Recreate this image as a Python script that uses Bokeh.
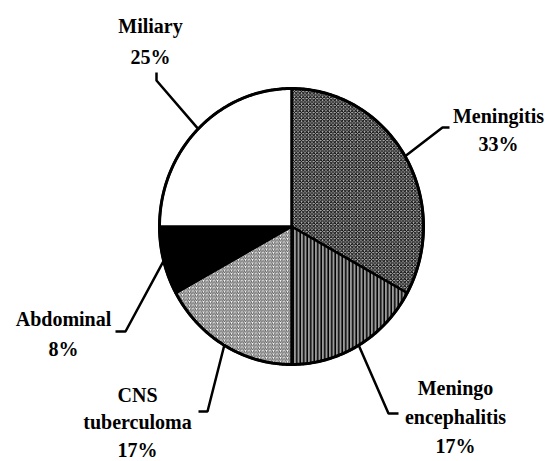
import numpy as np
from bokeh.plotting import figure
from bokeh.models import Range1d
from bokeh.core.properties import value
from bokeh.embed import file_html
from bokeh.resources import INLINE

# ---- data ----
categories = ["Meningitis", "Meningo encephalitis", "CNS tuberculoma", "Abdominal", "Miliary"]
percent = [33, 17, 17, 8, 25]
name_lines = [["Meningitis"], ["Meningo", "encephalitis"], ["CNS", "tuberculoma"], ["Abdominal"], ["Miliary"]]

# ---- styles / layout ----
fills = ["#b8b8b8", "#9a9a9a", "white", "black", "white"]
hatches = ["x", "|", "/", " ", " "]
hatch_colors = ["black", "black", "#555555", "black", "black"]
hatch_scales = [3.5, 3.5, 3.5, 4, 4]
hatch_weights = [1.0, 1.5, 1.0, 1, 1]

CX, CY, RX, RY = 291, 226, 132, 138   # page pixel coords (y down)

# leader elbows and label anchors (page px)
elbows = [[(442, 127), (449, 127)],
          [(388, 413), (398, 413)],
          [(207, 411), (198, 411)],
          [(125, 331), (115, 331)],
          [(156, 80), (156, 72)]]
label_x = [498, 455, 137, 63, 150]
label_y0 = [115, 387, 394, 318, 25]
label_dy = [28, 29, 27.5, 30, 31]

W, H = 547, 461
p = figure(width=W, height=H, output_backend="svg", toolbar_location=None,
           x_range=Range1d(0, W), y_range=Range1d(H, 0),
           min_border=0)
p.axis.visible = False
p.grid.visible = False
p.outline_line_color = None
p.background_fill_color = "white"
p.border_fill_color = "white"

total = float(sum(percent))
cum = np.concatenate([[0], np.cumsum(percent)]) / total
start_deg = 90 - cum[:-1] * 360
end_deg = 90 - cum[1:] * 360

# labels first (all in one text glyph)
tx, ty, tt_ = [], [], []
for i in range(len(categories)):
    lines = name_lines[i] + [f"{percent[i]}%"]
    for k, s in enumerate(lines):
        tx.append(label_x[i])
        ty.append(label_y0[i] + k * label_dy[i])
        tt_.append(s)
p.text(x=tx, y=ty, text=tt_, text_align="center", text_baseline="middle",
       text_font=value("Liberation Serif"), text_font_style="bold",
       text_font_size="20px", text_color="black")

for i in range(len(categories)):
    t = np.radians(np.linspace(start_deg[i], end_deg[i], 200))
    xs = np.concatenate([[CX], CX + RX * np.cos(t)])
    ys = np.concatenate([[CY], CY - RY * np.sin(t)])
    p.patch(xs, ys, fill_color=fills[i], hatch_pattern=hatches[i],
            hatch_color=hatch_colors[i], hatch_scale=hatch_scales[i],
            hatch_weight=hatch_weights[i],
            line_color="black", line_width=2.5, line_join="round")

# outer outline
tt = np.radians(np.linspace(0, 360, 400))
p.line(CX + RX * np.cos(tt), CY - RY * np.sin(tt), line_color="black", line_width=3)

# leaders
for i in range(len(categories)):
    mid = np.radians((start_deg[i] + end_deg[i]) / 2)
    ex, ey = CX + RX * np.cos(mid), CY - RY * np.sin(mid)
    lx = [ex] + [e[0] for e in elbows[i]]
    ly = [ey] + [e[1] for e in elbows[i]]
    p.line(lx, ly, line_color="black", line_width=2.5)

open("out.html", "w").write(file_html(p, INLINE))
